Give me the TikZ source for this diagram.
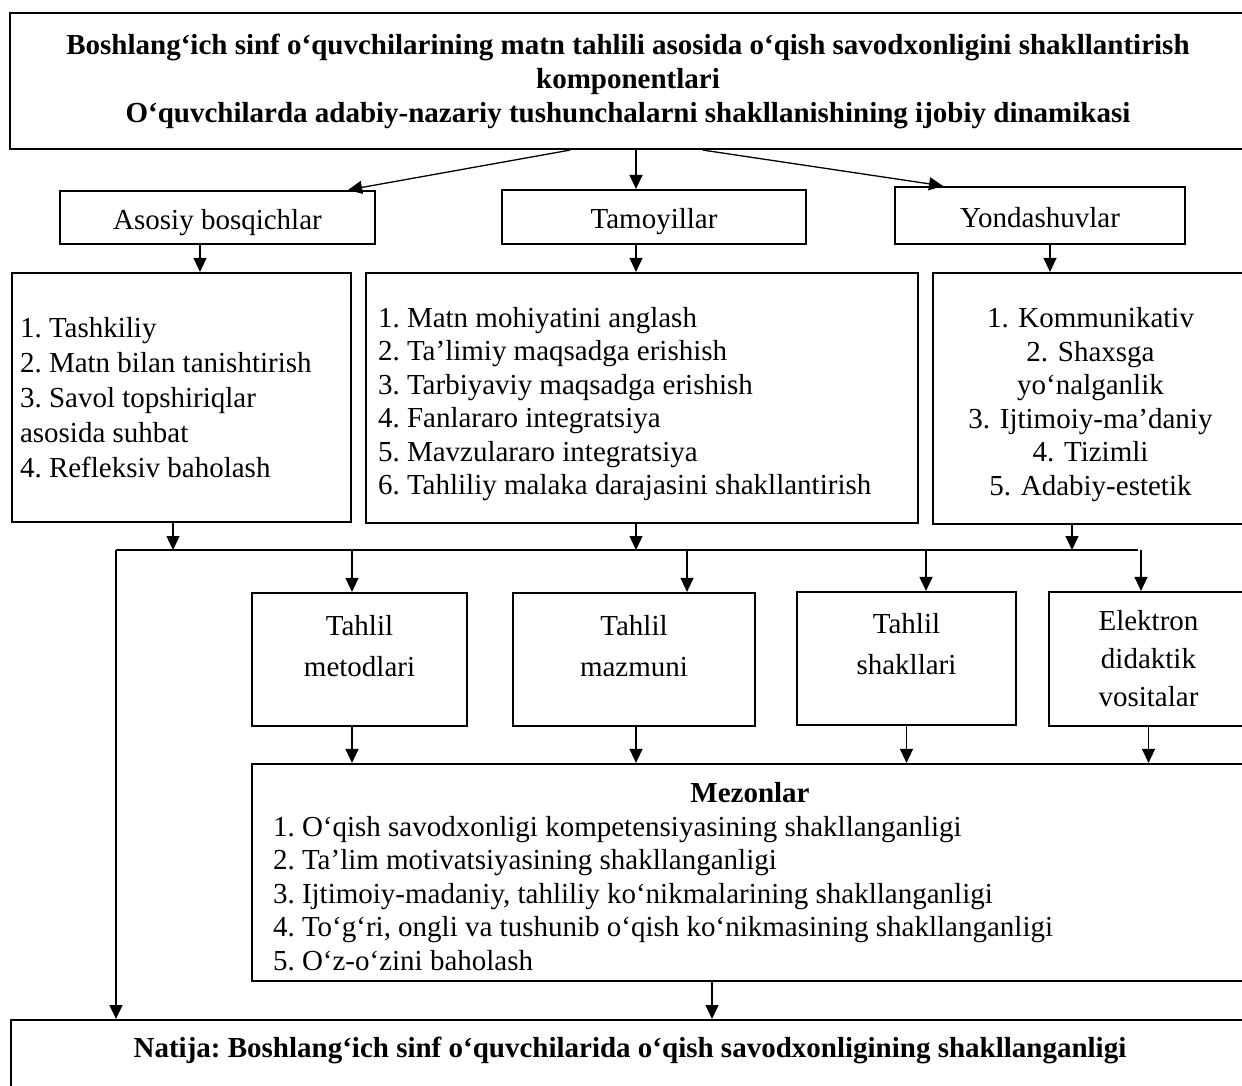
\documentclass[tikz,border=0pt]{standalone}
\usepackage{fontspec}
\setmainfont{Liberation Serif}
\usetikzlibrary{arrows.meta}
\frenchspacing

\begin{document}
\begin{tikzpicture}[x=1pt,y=-1pt,
    box/.style={draw,line width=2.2pt,inner sep=0pt,font=\fontsize{29}{34}\selectfont},
    head/.style={box,text height=26pt,text depth=2pt},
    list/.style={box,align=flush left,font=\fontsize{29}{33.5}\selectfont},
    inbox/.style={align=center,inner sep=0pt,font=\fontsize{29}{41}\selectfont},
    arr/.style={line width=1.3pt,-{Triangle[length=14pt,width=13pt]}}]
    \useasboundingbox (0,0) rectangle (1242,1086);

    \node[box,minimum width=1236,minimum height=136,align=center,font=\bfseries\fontsize{29}{34}\selectfont] (top) at (628,81)
        {Boshlang‘ich sinf o‘quvchilarining matn tahlili asosida o‘qish savodxonligini shakllantirish\\
         komponentlari\\
         O‘quvchilarda adabiy-nazariy tushunchalarni shakllanishining ijobiy dinamikasi};

    \node[head,minimum width=315,minimum height=53] (bosqich) at (217.5,217.5) {Asosiy bosqichlar};
    \node[head,minimum width=304,minimum height=54] (tamoyil) at (654,217)     {Tamoyillar};
    \node[head,minimum width=290,minimum height=57] (yondash) at (1040,215.5)  {Yondashuvlar};

    \node[list,minimum height=249,text width=323,inner xsep=8pt,font=\fontsize{29}{35}\selectfont] (bosqichlar) at (181.5,397.5)
        {1. Tashkiliy\\ 2. Matn bilan tanishtirish\\ 3. Savol topshiriqlar\\ asosida suhbat\\ 4. Refleksiv baholash};
    \node[list,minimum height=250,text width=528,inner xsep=12pt] (tamoyillar) at (642,398)
        {\rule{0pt}{32pt}1. Matn mohiyatini anglash\\ 2. Ta’limiy maqsadga erishish\\ 3. Tarbiyaviy maqsadga erishish\\
         4. Fanlararo integratsiya\\ 5. Mavzulararo integratsiya\\ 6. Tahliliy malaka darajasini shakllantirish};
    \node[list,minimum height=251,text width=305,inner xsep=5pt,align=center] (yondashuvlar) at (1090.5,398.5)
        {\rule{0pt}{32pt}1. Kommunikativ\\ 2. Shaxsga\\ yo‘nalganlik\\ 3. Ijtimoiy-ma’daniy\\ 4. Tizimli\\ 5. Adabiy-estetik};

    \coordinate (busL) at (116,550);
    \coordinate (busR) at (1138,550);

    \node[box,minimum width=215,minimum height=133] (metod) at (359.5,659.5) {};
    \node[inbox] (metodtxt) at ([yshift=13.5]metod.center) {Tahlil\\metodlari};
    \node[box,minimum width=242,minimum height=133] (mazmun) at (634,659.5) {};
    \node[inbox] (mazmuntxt) at ([yshift=13.5]mazmun.center) {Tahlil\\mazmuni};
    \node[box,minimum width=219,minimum height=133] (shakl) at (906.5,658.5) {};
    \node[inbox] (shakltxt) at ([yshift=14.5]shakl.center) {Tahlil\\shakllari};
    \node[box,minimum width=199,minimum height=134,align=center,font=\fontsize{29}{38}\selectfont] (vosita) at (1148.5,659)
        {Elektron\\didaktik\\vositalar};

    \node[list,minimum height=217,text width=954,inner xsep=21pt] (mezon) at (750,872.5)
        {\rule{0pt}{28pt}\makebox[954pt]{\textbf{Mezonlar}}\\
         1. O‘qish savodxonligi kompetensiyasining shakllanganligi\\
         2. Ta’lim motivatsiyasining shakllanganligi\\
         3. Ijtimoiy-madaniy, tahliliy ko‘nikmalarining shakllanganligi\\
         4. To‘g‘ri, ongli va tushunib o‘qish ko‘nikmasining shakllanganligi\\
         5. O‘z-o‘zini baholash};

    \node[box,anchor=north,minimum width=1238,text height=37pt,text depth=40pt,font=\bfseries\fontsize{29}{34}\selectfont] (natija) at (630,1019)
        {Natija: Boshlang‘ich sinf o‘quvchilarida o‘qish savodxonligining shakllanganligi};

    \draw[arr] ([xshift=-58]top.south) -- ([xshift=-28]bosqich.north east);
    \draw[arr] ([xshift=8]top.south) -- ([xshift=-18]tamoyil.north);
    \draw[arr] ([xshift=75]top.south) -- ([xshift=-97]yondash.north);

    \draw[arr] ([xshift=-17.5]bosqich.south) -- ([xshift=-17.5]bosqich.south |- bosqichlar.north);
    \draw[arr] ([xshift=-18]tamoyil.south) -- ([xshift=-18]tamoyil.south |- tamoyillar.north);
    \draw[arr] ([xshift=10]yondash.south) -- ([xshift=10]yondash.south |- yondashuvlar.north);

    \draw[arr] ([xshift=-8.5]bosqichlar.south) -- ([xshift=-8.5]bosqichlar.south |- busL);
    \draw[arr] ([xshift=-6]tamoyillar.south) -- ([xshift=-6]tamoyillar.south |- busL);
    \draw[arr] ([xshift=-18.5]yondashuvlar.south) -- ([xshift=-18.5]yondashuvlar.south |- busL);

    \draw[line width=1.3pt] (busL) -- (busR);
    \draw[arr] (busL) -- (busL |- natija.north);

    \draw[arr] ([xshift=-7.5]metod.north |- busL) -- ([xshift=-7.5]metod.north);
    \draw[arr] ([xshift=53]mazmun.north |- busL) -- ([xshift=53]mazmun.north);
    \draw[arr] ([xshift=19.5]shakl.north |- busL) -- ([xshift=19.5]shakl.north);
    \draw[arr] ([xshift=-7.5]vosita.north |- busL) -- ([xshift=-7.5]vosita.north);

    \draw[arr] ([xshift=-7.5]metod.south) -- ([xshift=-7.5]metod.south |- mezon.north);
    \draw[arr] ([xshift=2]mazmun.south) -- ([xshift=2]mazmun.south |- mezon.north);
    \draw[arr] (shakl.south) -- (shakl.south |- mezon.north);
    \draw[arr] (vosita.south) -- (vosita.south |- mezon.north);

    \draw[arr] ([xshift=-38]mezon.south) -- ([xshift=-38]mezon.south |- natija.north);
\end{tikzpicture}
\end{document}
